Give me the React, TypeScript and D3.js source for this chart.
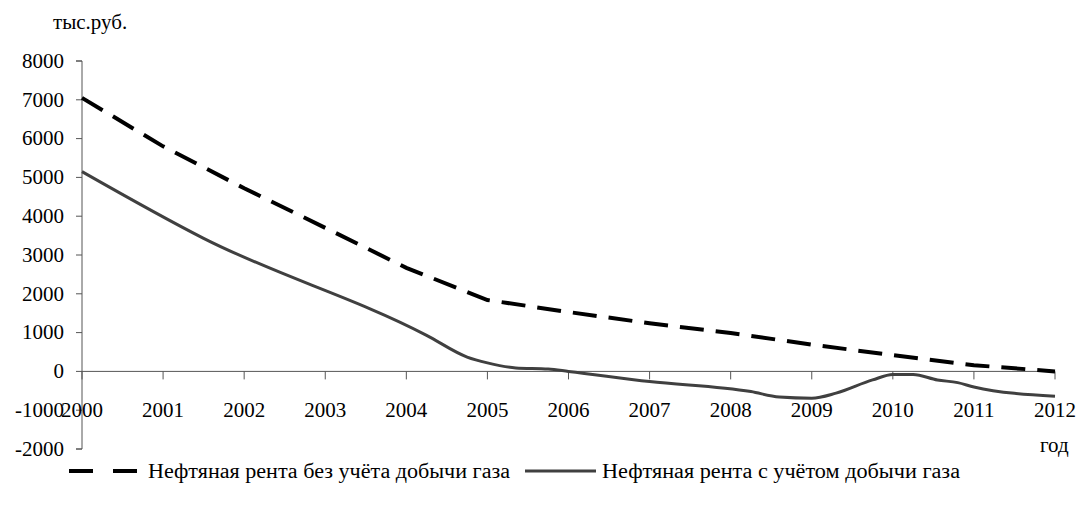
import React from "react";
import { line, curveLinear, curveMonotoneX, scaleLinear } from "d3";

// years on the x axis
const years = [2000, 2001, 2002, 2003, 2004, 2005, 2006, 2007, 2008, 2009, 2010, 2011, 2012];
const yTicks = [-2000, -1000, 0, 1000, 2000, 3000, 4000, 5000, 6000, 7000, 8000];

// oil rent without gas, yearly
const rentNoGas = [7050, 5800, 4720, 3700, 2670, 1840, 1530, 1240, 990, 690, 420, 160, 0];

// oil rent with gas (read at finer steps from the picture)
const rentGasX = [2000, 2001.5, 2004.25, 2004.75, 2005, 2005.35, 2005.75, 2006, 2007, 2008.25, 2008.6, 2009, 2009.3, 2009.75, 2010, 2010.25, 2010.55, 2010.8, 2011, 2012];
const rentGasY = [5150, 3430, 930, 370, 220, 90, 60, 0, -260, -520, -660, -690, -560, -220, -80, -80, -220, -290, -400, -640];

const legendNames = ["Нефтяная рента без учёта добычи газа", "Нефтяная рента с учётом добычи газа"];

const FONT = "Liberation Serif";
const AXIS = "#555";

//scales
const xScale = scaleLinear().domain([2000, 2012]).range([82, 1055]);
const yScale = scaleLinear().domain([-2000, 8000]).range([449, 61]);

//line generators
const dashLine = line<number>()
  .x((d, i) => xScale(years[i]))
  .y((d) => yScale(d))
  .curve(curveLinear);

const solidLine = line<number>()
  .x((d, i) => xScale(rentGasX[i]))
  .y((d) => yScale(d))
  .curve(curveMonotoneX);

const App = () => {
  const y0 = yScale(0);
  const txt = { fontFamily: FONT, fontSize: 21, fill: "#000" };
  const ly = 471;

  return (
    <svg
      width={1082}
      height={506}
      style={{ position: "absolute", left: 0, top: 0, background: "#fff" }}
    >
      {/* y axis */}
      <path
        d={`M76,${yScale(8000)}H82V${yScale(-2000)}H76`}
        fill="none"
        stroke={AXIS}
      />
      {yTicks.map((t) => (
        <g key={t} transform={`translate(0,${yScale(t)})`}>
          <line x1={76} x2={82} stroke={AXIS} />
          <text x={64} dy="0.32em" textAnchor="end" style={txt}>
            {t}
          </text>
        </g>
      ))}

      {/* x axis at zero */}
      <line x1={xScale(2000)} x2={xScale(2012)} y1={y0} y2={y0} stroke={AXIS} />
      {years.map((yr) => (
        <g key={yr} transform={`translate(${xScale(yr)},${y0})`}>
          <line y1={0} y2={8} stroke={AXIS} />
          <text y={46} textAnchor="middle" style={txt}>
            {yr}
          </text>
        </g>
      ))}

      {/* series */}
      <path d={solidLine(rentGasY) || ""} fill="none" stroke="#404040" strokeWidth={3} />
      <path
        d={dashLine(rentNoGas) || ""}
        fill="none"
        stroke="#000"
        strokeWidth={4}
        strokeDasharray="24,12"
      />

      {/* units */}
      <text x={53} y={29} style={txt}>тыс.руб.</text>
      <text x={1040} y={452} style={txt}>год</text>

      {/* legend */}
      <line x1={69} x2={138} y1={ly} y2={ly} stroke="#000" strokeWidth={4} strokeDasharray="24,20" />
      <text
        x={148}
        y={ly + 7}
        style={{ ...txt, fontSize: 20 }}
        textLength={362}
        lengthAdjust="spacingAndGlyphs"
      >
        {legendNames[0]}
      </text>
      <line x1={525} x2={596} y1={ly} y2={ly} stroke="#404040" strokeWidth={3} />
      <text
        x={602}
        y={ly + 7}
        style={{ ...txt, fontSize: 20 }}
        textLength={358}
        lengthAdjust="spacingAndGlyphs"
      >
        {legendNames[1]}
      </text>
    </svg>
  );
};

export default App;
